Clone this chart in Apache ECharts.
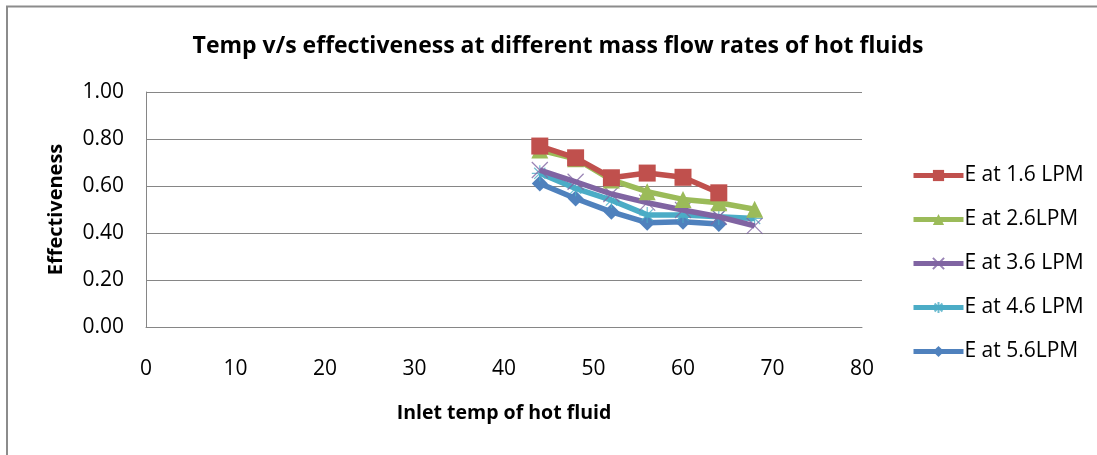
<!DOCTYPE html>
<html><head><meta charset="utf-8">
<script src="https://cdn.jsdelivr.net/npm/echarts@6/dist/echarts.min.js"></script>
<style>html,body{margin:0;padding:0;background:#fff}#c{width:1097px;height:455px}</style>
</head><body><div id="c"></div>
<script>
const temps = [44, 48, 52, 56, 60, 64, 68];
const e16 = [0.77, 0.72, 0.635, 0.655, 0.637, 0.571];
const e26 = [0.753, 0.716, 0.626, 0.576, 0.543, 0.529, 0.501];
const e36 = [0.668, 0.618, 0.566, 0.529, 0.498, 0.469, 0.43];
const e46 = [0.654, 0.59, 0.54, 0.477, 0.477, 0.469, 0.462];
const e56 = [0.611, 0.547, 0.49, 0.444, 0.448, 0.438];
const names = ['E at 1.6 LPM', 'E at 2.6LPM', 'E at 3.6 LPM', 'E at 4.6 LPM', 'E at 5.6LPM'];
const colors = ['#c0504d', '#9bbb59', '#8064a2', '#4bacc6', '#4f81bd'];
const allVals = [e16, e26, e36, e46, e56];
const xPath = 'path://M0,0L10,10M10,0L0,10';
const starPath = 'path://M5,0L5,10M0,5L10,5M1.5,1.5L8.5,8.5M8.5,1.5L1.5,8.5';
const symbols = ['rect', 'triangle', xPath, starPath, 'diamond'];
const symSizes = [17, 17, 16, 16, 16];
const font = '"Open Sans", "Liberation Sans", sans-serif';

const series = allVals.map((vals, i) => {
  const hollow = i === 2 || i === 3;
  return {
    name: names[i],
    type: 'line',
    data: vals.map((v, j) => [temps[j], v]),
    symbol: symbols[i],
    symbolSize: symSizes[i],
    showAllSymbol: true,
    lineStyle: { color: colors[i], width: 5.5 },
    itemStyle: hollow ? { color: 'transparent', borderColor: colors[i], borderWidth: 1.2, opacity: 0.8 } : { color: colors[i], borderWidth: 0 },
    z: 10 - i
  };
});

const chart = echarts.init(document.getElementById('c'));
chart.setOption({
  backgroundColor: '#fff',
  animation: false,
  title: {
    text: 'Temp v/s effectiveness at different mass flow rates of hot fluids',
    left: 553, top: 30, textAlign: 'center',
    textStyle: { fontFamily: font, fontSize: 23, fontWeight: 'bold', color: '#000' }
  },
  graphic: [{
    type: 'polyline', shape: { points: [[7, 460], [7, 6.5], [1100, 6.5]] },
    style: { stroke: '#8c8c8c', lineWidth: 2, fill: null }
  }],
  legend: {
    orient: 'vertical', left: 906, top: 160, itemGap: 23,
    itemWidth: 50, itemHeight: 14,
    lineStyle: { width: 5 },
    textStyle: { fontFamily: font, fontSize: 21, lineHeight: 21, color: '#000', padding: [0, 0, 0, -4] },
    data: names
  },
  grid: { left: 146, right: 235, top: 92, bottom: 128, containLabel: false },
  xAxis: {
    type: 'value', min: 0, max: 80, interval: 10,
    name: 'Inlet temp of hot fluid', nameLocation: 'middle', nameGap: 76,
    nameTextStyle: { fontFamily: font, fontSize: 19.5, fontWeight: 'bold', color: '#000' },
    axisLine: { lineStyle: { color: '#868686' } },
    axisTick: { show: false },
    splitLine: { show: false },
    axisLabel: { fontFamily: font, fontSize: 21, color: '#000', margin: 32 }
  },
  yAxis: {
    type: 'value', min: 0, max: 1, interval: 0.2,
    name: 'Effectiveness', nameLocation: 'middle', nameGap: 80,
    nameTextStyle: { fontFamily: font, fontSize: 20, fontWeight: 'bold', color: '#000' },
    axisLine: { show: true, lineStyle: { color: '#868686' } },
    axisTick: { show: false },
    splitLine: { lineStyle: { color: '#868686' } },
    axisLabel: { fontFamily: font, fontSize: 21, color: '#000', margin: 22, formatter: v => v.toFixed(2) }
  },
  series: series
});
</script></body></html>
